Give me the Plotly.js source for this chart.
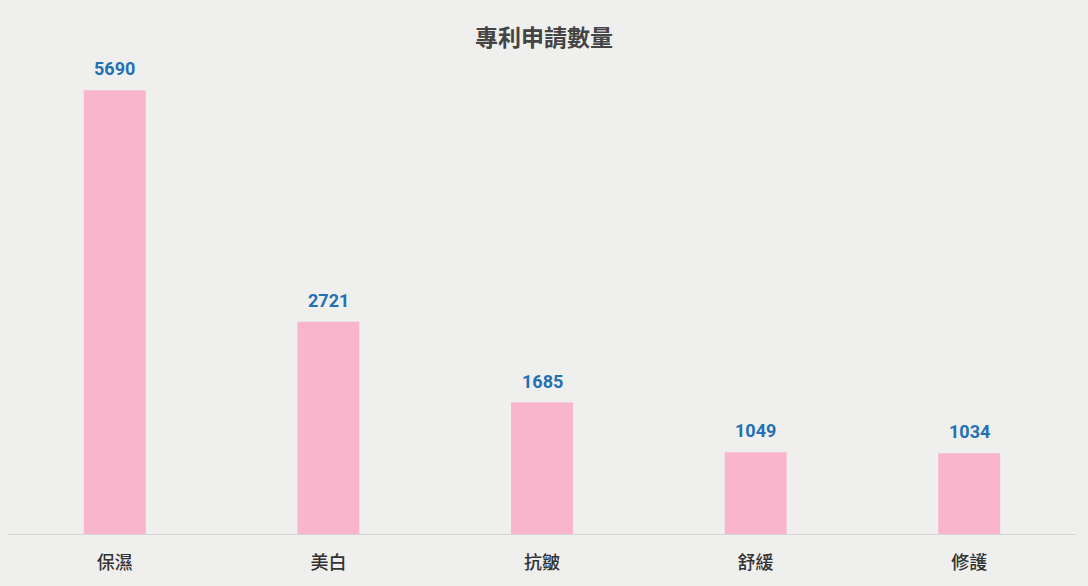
<!DOCTYPE html>
<html>
<head>
<meta charset="utf-8">
<script src="https://cdn.plot.ly/plotly-3.0.1.min.js"></script>
<style>
  html, body { margin: 0; padding: 0; background: #efefee; }
</style>
</head>
<body>
<div id="myDiv" style="width:1088px;height:586px;"></div>
<script>
  // Chart data
  var categories = ["保濕", "美白", "抗皺", "舒緩", "修護"];
  var counts = [5690, 2721, 1685, 1049, 1034];

  var data = [
    {
      type: "bar",
      x: categories,
      y: counts,
      marker: { color: "#f8b5cc" },
      hoverinfo: "x+y"
    }
  ];

  // value labels above bars
  var labels = categories.map(function (c, i) {
    return {
      x: c,
      y: counts[i],
      text: "<b>" + counts[i] + "</b>",
      showarrow: false,
      yanchor: "bottom",
      yshift: 9,
      font: { size: 18, color: "#2371b3", family: "Roboto, 'Noto Sans CJK TC'" }
    };
  });

  var layout = {
    width: 1088,
    height: 586,
    margin: { l: 8, r: 12, t: 66, b: 52 },
    paper_bgcolor: "#efefee",
    plot_bgcolor: "#efefee",
    font: { family: "'Noto Sans CJK TC', sans-serif", color: "#404040" },
    title: {
      text: "<b>專利申請數量</b>",
      x: 0.5,
      xanchor: "center",
      y: 0.936,
      yanchor: "middle",
      font: { size: 23, color: "#444444" }
    },
    bargap: 0.71,
    showlegend: false,
    xaxis: {
      showline: true,
      linecolor: "#d6d6d6",
      linewidth: 1,
      ticks: "",
      ticklabelstandoff: 12,
      tickfont: { size: 18, color: "#333333", weight: 500 }
    },
    yaxis: {
      range: [0, 6000],
      visible: false,
      showgrid: false,
      zeroline: false
    },
    annotations: labels
  };

  Plotly.newPlot("myDiv", data, layout, { displayModeBar: false });
</script>
</body>
</html>
